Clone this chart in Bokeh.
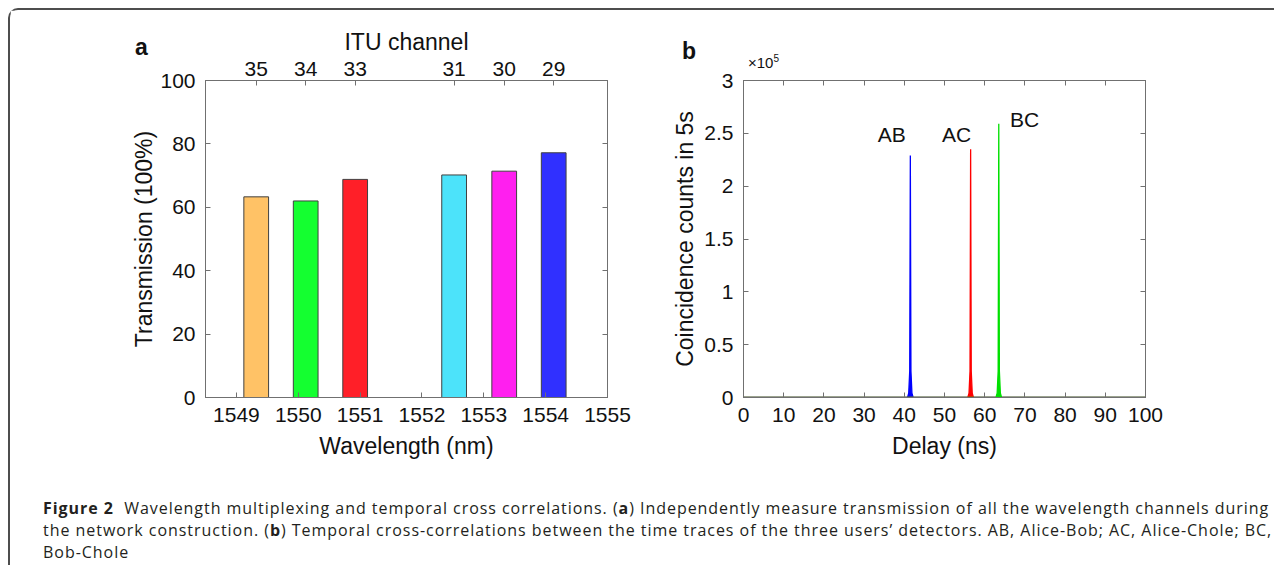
from bokeh.plotting import figure
from bokeh.models import (LinearAxis, FixedTicker, Label, Div, Range1d,
                          CustomJSTickFormatter)
from bokeh.layouts import column, row
from bokeh.embed import file_html
from bokeh.resources import INLINE

# ---------------- data ----------------
# panel a: ITU channels and measured transmission
itu_channels = [35, 34, 33, 31, 30, 29]
itu_wavelength = [1549.32, 1550.12, 1550.92, 1552.52, 1553.33, 1554.13]
transmission = [63.3, 62.0, 68.8, 70.2, 71.4, 77.2]
bar_colors = ["#FFC266", "#14FF30", "#FF1F28", "#4CE3FA", "#FF1FEF", "#3030FF"]
wavelength_ticks = [1549, 1550, 1551, 1552, 1553, 1554, 1555]
transmission_ticks = [0, 20, 40, 60, 80, 100]

# panel b: coincidence histograms (counts in units of 1e5)
ab_delay = [0, 40.8, 41.1, 41.35, 41.5, 41.65, 41.9, 42.2, 100]
ab_counts = [0, 0, 0.04, 0.25, 2.29, 0.25, 0.04, 0, 0]
ac_delay = [0, 55.8, 56.1, 56.35, 56.5, 56.65, 56.9, 57.2, 100]
ac_counts = [0, 0, 0.04, 0.25, 2.35, 0.25, 0.04, 0, 0]
bc_delay = [0, 62.8, 63.1, 63.35, 63.5, 63.65, 63.9, 64.2, 100]
bc_counts = [0, 0, 0.04, 0.25, 2.59, 0.25, 0.04, 0, 0]
delay_ticks = [0, 10, 20, 30, 40, 50, 60, 70, 80, 90, 100]
count_ticks = [0, 0.5, 1, 1.5, 2, 2.5, 3]
pair_labels = ["AB", "AC", "BC"]
pair_label_x = [36.9, 53.0, 69.9]
pair_label_y = [2.49, 2.49, 2.63]

FONT = "Liberation Sans"
AX = "#707070"
TXT = "#111111"
BLANK = CustomJSTickFormatter(code="return '';")


def style_axis(ax, labels=True):
    ax.axis_line_color = AX
    ax.major_tick_line_color = AX
    ax.major_tick_in = 5
    ax.major_tick_out = 0
    ax.minor_tick_line_color = None
    ax.major_label_text_font = FONT
    ax.major_label_text_font_size = "21px"
    ax.major_label_text_color = TXT
    ax.major_label_standoff = 10
    ax.axis_label_text_font = FONT
    ax.axis_label_text_font_size = "23px"
    ax.axis_label_text_font_style = "normal"
    ax.axis_label_text_color = TXT
    ax.axis_label_standoff = 8
    if not labels:
        ax.formatter = BLANK
        ax.major_label_standoff = 0


# ---------------- panel a ----------------
pa = figure(width=640, height=455, x_range=Range1d(1548.5, 1555),
            y_range=Range1d(0, 100), output_backend="svg",
            toolbar_location=None, min_border_left=195, min_border_right=43,
            min_border_top=70, min_border_bottom=68)
pa.grid.visible = False
pa.outline_line_color = AX
pa.vbar(x=itu_wavelength, top=transmission, width=0.4,
        fill_color=bar_colors, line_color="#404040", line_width=1)

pa.xaxis.ticker = FixedTicker(ticks=wavelength_ticks)
pa.xaxis.axis_label = "Wavelength (nm)"
pa.yaxis.ticker = FixedTicker(ticks=transmission_ticks)
pa.yaxis.axis_label = "Transmission (100%)"
style_axis(pa.xaxis[0])
style_axis(pa.yaxis[0])
pa.yaxis.axis_label_standoff = 0

top_a = LinearAxis(ticker=FixedTicker(ticks=itu_wavelength),
                   major_label_overrides={w: str(c) for w, c in zip(itu_wavelength, itu_channels)},
                   axis_label="ITU channel")
style_axis(top_a)
top_a.major_label_standoff = 5
top_a.axis_label_standoff = 4
pa.add_layout(top_a, "above")
right_a = LinearAxis(ticker=FixedTicker(ticks=transmission_ticks))
style_axis(right_a, labels=False)
pa.add_layout(right_a, "right")

# ---------------- panel b ----------------
pb = figure(width=624, height=455, x_range=Range1d(0, 100),
            y_range=Range1d(0, 3), output_backend="svg",
            toolbar_location=None, min_border_left=93, min_border_right=129,
            min_border_top=70, min_border_bottom=68)
pb.grid.visible = False
pb.outline_line_color = AX

for d, c, col in [(ab_delay, ab_counts, "#0000FF"),
                  (ac_delay, ac_counts, "#FF0000"),
                  (bc_delay, bc_counts, "#00E000")]:
    pb.varea(x=d, y1=[0] * len(d), y2=c, fill_color=col)
    pb.line(d, c, line_color=col, line_width=1.3)

pb.xaxis.ticker = FixedTicker(ticks=delay_ticks)
pb.xaxis.axis_label = "Delay (ns)"
pb.yaxis.ticker = FixedTicker(ticks=count_ticks)
pb.yaxis.axis_label = "Coincidence counts in 5s"
style_axis(pb.xaxis[0])
style_axis(pb.yaxis[0])
pb.yaxis.formatter = CustomJSTickFormatter(code="return String(Math.round(tick*10)/10);")
pb.yaxis.axis_label_standoff = 3
top_b = LinearAxis(ticker=FixedTicker(ticks=delay_ticks))
style_axis(top_b, labels=False)
pb.add_layout(top_b, "above")
right_b = LinearAxis(ticker=FixedTicker(ticks=count_ticks))
style_axis(right_b, labels=False)
pb.add_layout(right_b, "right")

for t, x, y in zip(pair_labels, pair_label_x, pair_label_y):
    pb.add_layout(Label(x=x, y=y, text=t, text_align="center",
                        text_baseline="middle", text_font=FONT,
                        text_font_size="21px", text_color=TXT))

# ---------------- texts outside the plot frames (panel letters, exponent) ----------------
span = ("<span style=\"position:absolute; z-index:20; white-space:nowrap; "
        "font-family:'Liberation Sans'; line-height:1; color:#111; left:{l}px; top:{t}px; "
        "font-size:{s}px; font-weight:{w};\">{txt}</span>")
overlay_html = (
    span.format(l=125, t=26, s=23, w="bold", txt="a")
    + span.format(l=672, t=30, s=23, w="bold", txt="b")
    + span.format(l=738, t=44, s=15, w="normal",
                  txt="\u00d710<span style=\"font-size:10px; vertical-align:6px;\">5</span>")
)
overlay = Div(text=overlay_html, width=1264, height=0, margin=0,
              styles={"overflow": "visible"})

# ---------------- caption ----------------
caption_html = (
    "<b>Figure 2</b>&nbsp; Wavelength multiplexing and temporal cross correlations. "
    "(<b>a</b>) Independently measure transmission of all the wavelength channels during<br>"
    "the network construction. (<b>b</b>) Temporal cross-correlations between the time traces "
    "of the three users\u2019 detectors. AB, Alice-Bob; AC, Alice-Chole; BC,<br>Bob-Chole"
)
cap = Div(text=caption_html, width=1264, height=100, margin=0,
          styles={"font-family": "'Open Sans'", "font-size": "16px",
                  "letter-spacing": "0.96px",
                  "line-height": "22px", "color": "#231f20",
                  "padding-left": "33px", "padding-top": "32px",
                  "white-space": "nowrap"})

layout = column(overlay, row(pa, pb), cap,
                styles={"margin-left": "8px", "margin-top": "8px",
                        "position": "relative",
                        "border-top": "2px solid #4d4d4d",
                        "border-left": "2px solid #4d4d4d",
                        "border-top-left-radius": "10px"})

open("out.html", "w").write(file_html(layout, INLINE))
